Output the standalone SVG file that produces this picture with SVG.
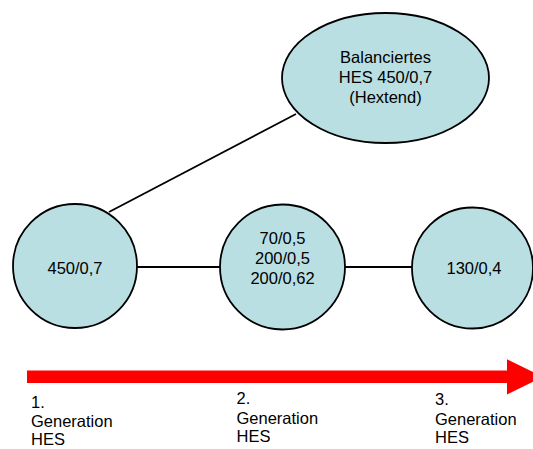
<svg xmlns="http://www.w3.org/2000/svg" width="533" height="449" viewBox="0 0 533 449">
<style>
.n{fill:#b9dfe2;stroke:#000;stroke-width:1.8}
.c{stroke:#000;stroke-width:1.8;fill:none}
text{font-family:"Liberation Sans",Arial,sans-serif;font-size:16.5px;fill:#000}
.m{text-anchor:middle}
</style>
<rect width="533" height="449" fill="#fff"/>
<g id="connectors">
<line class="c" x1="109" y1="212" x2="296" y2="114"/>
<line class="c" x1="137" y1="267" x2="220" y2="267"/>
<line class="c" x1="345" y1="267" x2="412" y2="267"/>
</g>
<g id="hextend">
<ellipse class="n" cx="385.5" cy="78" rx="103.5" ry="65"/>
<text class="m" x="385.5" y="63">Balanciertes</text>
<text class="m" x="385.5" y="83">HES 450/0,7</text>
<text class="m" x="385.5" y="103">(Hextend)</text>
</g>
<g id="gen1">
<circle class="n" cx="75" cy="266" r="62"/>
<text class="m" x="75" y="274">450/0,7</text>
</g>
<g id="gen2">
<circle class="n" cx="282.5" cy="267" r="62.5"/>
<text class="m" x="282.5" y="244">70/0,5</text>
<text class="m" x="282.5" y="264">200/0,5</text>
<text class="m" x="282.5" y="284">200/0,62</text>
</g>
<g id="gen3">
<circle class="n" cx="472.5" cy="268" r="60.5"/>
<text class="m" x="474" y="274">130/0,4</text>
</g>
<g id="timeline">
<polygon fill="#ff0000" points="27,370.5 507,370.5 507,359.3 543,377 507,394.5 507,383 27,383"/>
<text x="31" y="408">1.</text>
<text x="31" y="427">Generation</text>
<text x="31" y="445">HES</text>
<text x="236.5" y="404">2.</text>
<text x="236.5" y="424">Generation</text>
<text x="236.5" y="442">HES</text>
<text x="435" y="405">3.</text>
<text x="435" y="425">Generation</text>
<text x="435" y="443">HES</text>
</g>
</svg>
